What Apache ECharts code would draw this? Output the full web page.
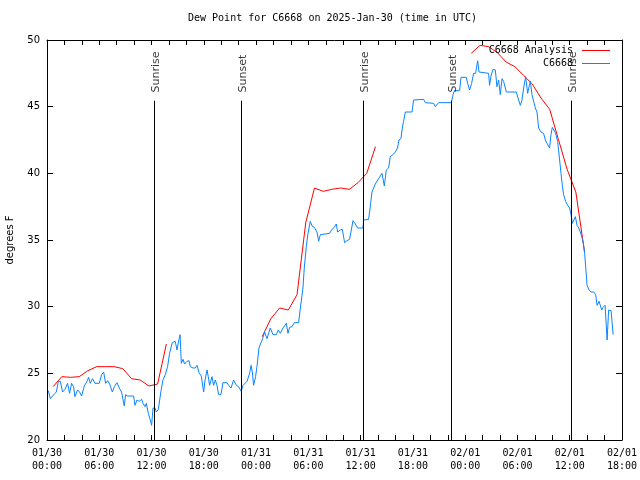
<!DOCTYPE html>
<html>
<head>
<meta charset="utf-8">
<script src="https://cdn.jsdelivr.net/npm/echarts@6/dist/echarts.min.js"></script>
<style>html,body{margin:0;padding:0;background:#fff}#c{width:640px;height:480px}</style>
</head>
<body>
<div id="c"></div>
<script>
// Hours since 2025-01-30 00:00 UTC
const obsHours = [0.15,0.38,0.84,1.07,1.30,1.53,1.79,2.07,2.36,2.59,
2.82,3.05,3.21,3.51,3.74,3.97,4.28,4.59,4.78,4.97,
5.23,5.51,6.00,6.27,6.50,6.73,6.96,7.19,7.50,7.73,
8.03,8.30,8.56,8.87,9.02,9.25,9.94,10.10,10.33,10.59,
10.86,11.02,11.25,11.40,11.63,11.86,12.01,12.17,12.40,12.55,
12.78,13.09,13.31,13.58,13.84,14.07,14.38,14.72,14.92,15.15,
15.27,15.42,15.61,15.79,16.07,16.30,16.45,16.76,17.02,17.22,
17.45,17.71,17.98,18.14,18.37,18.51,18.66,18.94,19.12,19.32,
19.51,19.70,19.97,20.20,20.66,20.84,21.12,21.42,21.73,21.99,
22.30,22.50,22.96,23.26,23.42,23.57,23.71,23.94,24.10,24.33,
24.56,24.75,24.98,25.25,25.63,25.94,26.32,26.55,26.78,27.09,
27.47,27.66,27.85,28.12,28.39,28.88,29.08,29.38,29.53,29.76,
29.96,30.22,30.42,30.68,30.99,31.18,31.37,31.57,32.44,32.71,
32.98,33.21,33.36,33.67,33.90,34.16,34.44,34.73,34.89,35.12,
35.39,35.65,36.27,36.34,36.91,37.11,37.30,37.68,38.06,38.45,
38.72,38.94,39.21,39.40,39.71,39.98,40.24,40.40,40.63,40.78,
40.93,41.13,41.90,42.08,43.23,43.42,44.38,44.57,44.95,46.41,
46.61,46.76,47.36,47.52,48.13,48.28,48.51,48.74,48.97,49.20,
49.43,49.59,49.74,50.69,50.80,50.96,51.19,51.46,51.65,51.84,
52.03,52.23,52.41,52.72,53.87,54.13,54.33,54.52,54.71,54.94,
55.17,55.33,55.48,55.67,55.86,56.05,56.24,56.43,56.70,57.00,
57.20,57.39,57.69,57.85,58.00,58.15,58.38,58.61,58.84,59.00,
59.15,59.30,59.53,59.76,59.99,60.15,60.30,60.45,60.65,60.84,
61.03,61.22,61.45,61.60,61.71,61.83,61.99,62.22,62.45,62.75,
62.98,63.14,63.37,63.52,63.67,63.83,64.06,64.29,64.47,64.75,
64.98];
const obsValues = [23.7,23.1,23.45,23.6,24.4,24.4,23.6,23.8,24.25,23.5,
24.25,24.0,23.25,23.75,23.6,23.3,24.05,24.4,24.7,24.25,
24.6,24.25,24.25,24.9,25.1,24.25,24.45,24.2,23.6,24.0,
24.3,23.9,23.6,22.55,23.4,23.3,23.3,22.6,23.0,22.9,
23.05,22.75,22.5,22.75,22.0,21.5,21.1,22.4,22.4,22.1,
22.3,23.7,24.5,24.9,25.5,26.5,27.3,27.4,26.75,27.55,
27.9,25.75,26.05,25.7,25.9,25.95,25.5,25.4,25.4,25.6,
25.05,24.8,23.6,24.5,25.25,24.75,24.1,24.75,24.1,24.5,
24.1,23.4,23.4,24.3,24.3,24.1,23.9,24.5,24.1,24.0,
23.65,24.1,24.4,25.0,25.6,25.1,24.1,24.75,25.5,26.9,
27.3,27.6,28.1,27.6,28.4,27.9,27.9,28.25,28.0,28.4,
28.75,28.0,28.45,28.5,28.8,28.8,29.9,31.4,32.9,34.5,
35.5,36.4,36.05,35.95,35.6,34.9,35.4,35.5,35.5,35.8,
35.95,36.2,35.6,35.75,35.8,34.8,34.95,35.05,35.6,36.45,
36.2,35.9,35.9,36.5,36.55,37.5,38.6,39.2,39.6,40.0,
39.05,40.25,40.4,41.25,41.4,41.6,41.9,42.5,42.6,43.4,
43.9,44.6,44.6,45.5,45.55,45.3,45.25,45.0,45.3,45.3,
45.9,46.2,46.2,47.2,47.2,46.75,46.25,46.75,47.5,47.5,
48.45,47.6,47.5,47.5,46.6,47.3,47.8,47.75,46.5,47.0,
45.9,47.1,46.9,46.1,46.1,45.5,45.1,45.5,46.4,47.25,
46.0,46.5,46.9,45.9,45.4,44.9,44.6,43.4,43.1,43.0,
42.5,42.25,41.9,42.9,43.45,43.55,43.0,42.4,41.0,40.0,
39.1,38.4,37.9,37.6,37.4,36.9,36.25,36.4,36.75,36.1,
35.9,35.6,35.1,34.6,34.0,33.0,31.6,31.25,31.1,31.1,
30.9,30.1,30.4,30.5,29.75,29.95,30.1,27.5,29.75,29.7,
27.9];

const anaHours = [0.7,1.7,2.7,3.7,4.7,5.7,6.7,7.7,8.7,9.7,10.7,11.7,12.7,13.7,
19.0,
24.7,25.7,26.7,27.7,28.7,29.7,30.7,31.7,32.7,33.7,34.7,35.7,36.7,37.7,
43.0,
48.7,49.7,50.7,51.7,52.7,53.7,54.7,55.7,56.7,57.7,58.7,59.7,60.7,61.7];
const anaValues = [24.0,24.75,24.7,24.75,25.2,25.5,25.5,25.5,25.35,24.6,24.5,24.05,24.2,27.2,
null,
27.75,29.1,29.9,29.75,30.9,36.3,38.9,38.65,38.8,38.9,38.8,39.3,40.0,42.0,
null,
49.0,49.6,49.5,49.05,48.35,48.0,47.35,46.7,45.65,44.8,42.55,40.3,38.6,34.1];

const eventHours = [12.32, 22.30, 36.31, 46.41, 60.21];
const eventNames = ['Sunrise','Sunset','Sunrise','Sunset','Sunrise'];
const eventLineTop = 45.45;
const eventLabelY = 46.1;

const xTickDays = ['01/30','01/31','02/01'];

function fmtX(h){
  const d = Math.floor(h/24);
  const hh = String(h % 24).padStart(2,'0');
  return xTickDays[d] + '\n' + hh + ':00';
}

const obsData = obsHours.map((h,i)=>[h, obsValues[i]]);
const anaData = anaHours.map((h,i)=>[h, anaValues[i] === null ? NaN : anaValues[i]]);
const markData = eventHours.map(h=>[{coord:[h,20]},{coord:[h,eventLineTop]}]);
const labelData = eventHours.map((h,i)=>({name:eventNames[i], value:[h,eventLabelY]}));

const mono = 'DejaVu Sans Mono';
const sans = 'DejaVu Sans';

const baseX = {
  type:'value', min:0, max:66, interval:6,
  axisLine:{show:true, onZero:false, lineStyle:{color:'#000', width:1}},
  axisTick:{show:true, inside:true, length:5, lineStyle:{color:'#000'}},
  minorTick:{show:true, splitNumber:3, length:5, lineStyle:{color:'#000'}},
  splitLine:{show:false}, minorSplitLine:{show:false}
};
const baseY = {
  type:'value', min:20, max:50, interval:5,
  axisLine:{show:true, onZero:false, lineStyle:{color:'#000', width:1}},
  axisTick:{show:true, inside:true, length:6, lineStyle:{color:'#000'}},
  splitLine:{show:false}
};

const chart = echarts.init(document.getElementById('c'), null, {renderer:'canvas'});
chart.setOption({
  animation:false,
  backgroundColor:'#fff',
  title:{
    text:'Dew Point for C6668 on 2025-Jan-30 (time in UTC)',
    left:188, top:13, padding:0,
    textStyle:{fontFamily:mono, fontSize:10, fontWeight:'normal', color:'#000'}
  },
  legend:{
    orient:'vertical', right:30, top:44, padding:0, align:'right',
    itemWidth:28, itemHeight:1, itemGap:0, icon:'rect',
    data:['C6668 Analysis','C6668'],
    textStyle:{fontFamily:mono, fontSize:10, color:'#000', lineHeight:13, padding:[0,4,0,0]}
  },
  grid:{left:47, right:18, top:40, bottom:40, containLabel:false, outerBoundsMode:'none'},
  xAxis:[
    Object.assign({}, baseX, {position:'bottom',
      axisLabel:{show:true, formatter:fmtX, fontFamily:mono, fontSize:10, color:'#000', lineHeight:13, margin:7}}),
    Object.assign({}, baseX, {position:'top', axisLabel:{show:false}})
  ],
  yAxis:[
    Object.assign({}, baseY, {position:'left',
      axisLabel:{show:true, fontFamily:sans, fontSize:10, color:'#000', margin:7},
      name:'degrees F', nameLocation:'middle', nameGap:32, nameRotate:90,
      nameTextStyle:{fontFamily:sans, fontSize:10, color:'#000'}}),
    Object.assign({}, baseY, {position:'right', axisLabel:{show:false}})
  ],
  series:[
    {
      name:'C6668 Analysis', type:'line', data:anaData, symbol:'none',
      connectNulls:false, lineStyle:{color:'#ff0000', width:1}, itemStyle:{color:'#ff0000'}, z:2
    },
    {
      name:'C6668', type:'line', data:obsData, symbol:'none',
      lineStyle:{color:'#0a84ff', width:1}, itemStyle:{color:'#0a84ff'}, z:3
    },
    {
      name:'events', type:'line', data:[], z:4,
      markLine:{silent:true, symbol:['none','none'], label:{show:false},
        lineStyle:{color:'#000', width:1, type:'solid'}, data:markData}
    },
    {
      name:'eventLabels', type:'scatter', data:labelData, symbolSize:1, z:5,
      itemStyle:{color:'rgba(0,0,0,0)'}, silent:true,
      label:{show:true, formatter:'{b}', rotate:90, position:[0,0], align:'left', verticalAlign:'middle',
        fontFamily:sans, fontSize:11, color:'#000', offset:[-1,2]}
    }
  ]
});
</script>
</body>
</html>
